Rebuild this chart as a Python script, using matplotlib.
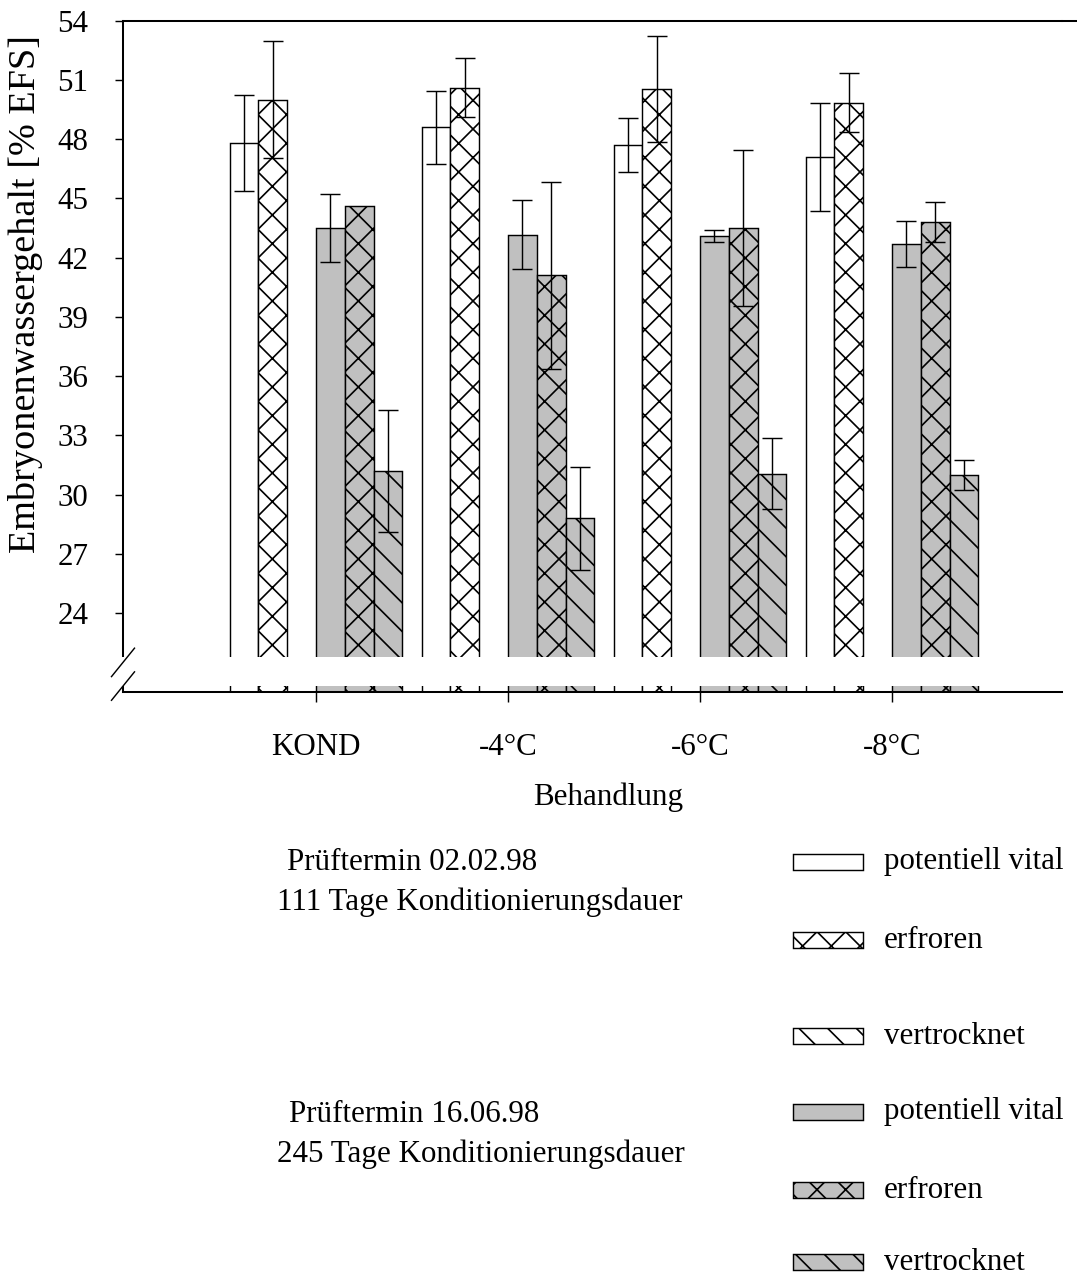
import numpy as np
import matplotlib.pyplot as plt
from matplotlib.patches import Rectangle
from matplotlib.lines import Line2D

plt.rcParams['font.family'] = ['Liberation Serif', 'DejaVu Serif']
plt.rcParams['hatch.linewidth'] = 0.7

# Embryonenwassergehalt je Behandlung, zwei Prüftermine
treatments = ['KOND', '-4°C', '-6°C', '-8°C']

# Prüftermin 02.02.98 (111 Tage)
vital_1 = [47.8, 48.6, 47.7, 47.1]
vital_1_err = [2.45, 1.85, 1.35, 2.75]
frozen_1 = [50.0, 50.6, 50.55, 49.85]
frozen_1_err = [2.95, 1.5, 2.7, 1.5]
dried_1 = [np.nan, np.nan, np.nan, np.nan]
dried_1_err = [np.nan, np.nan, np.nan, np.nan]

# Prüftermin 16.06.98 (245 Tage)
vital_2 = [43.5, 43.15, 43.1, 42.7]
vital_2_err = [1.7, 1.75, 0.3, 1.15]
frozen_2 = [44.6, 41.1, 43.5, 43.8]
frozen_2_err = [np.nan, 4.75, 3.95, 1.0]
dried_2 = [31.2, 28.8, 31.05, 31.0]
dried_2_err = [3.1, 2.6, 1.8, 0.75]

yticks = list(range(24, 55, 3))
legend_labels = ['potentiell vital', 'erfroren', 'vertrocknet']

W, H, DPI = 1077, 1276, 172
fig = plt.figure(figsize=(W / DPI, H / DPI), dpi=DPI)

def fx(px):
    return px / W

def fy(py):
    return 1 - py / H

ax_left, ax_right, ax_top, ax_bot = 123, 1062, 20.7, 692
ax = fig.add_axes([fx(ax_left), fy(ax_bot), (ax_right - ax_left) / W, (ax_bot - ax_top) / H])

GREY = '#c0c0c0'
series = [
    (vital_1, vital_1_err, 'white', ''),
    (frozen_1, frozen_1_err, 'white', 'xx'),
    (dried_1, dried_1_err, 'white', '\\\\'),
    (vital_2, vital_2_err, GREY, ''),
    (frozen_2, frozen_2_err, GREY, 'xx'),
    (dried_2, dried_2_err, GREY, '\\\\'),
]

x = np.arange(len(treatments))
w = 0.15
for i, (vals, errs, fc, hatch) in enumerate(series):
    xi = x + (i - 2.5) * w
    vals = np.array(vals, dtype=float)
    errs = np.array(errs, dtype=float)
    ok = ~np.isnan(vals)
    ax.bar(xi[ok], vals[ok], width=w, color=fc, edgecolor='black',
           linewidth=0.6, hatch=hatch, zorder=2)
    ok_e = ok & ~np.isnan(errs)
    ax.errorbar(xi[ok_e], vals[ok_e], yerr=errs[ok_e], fmt='none',
                ecolor='black', elinewidth=0.6, capsize=4.2, capthick=0.6,
                zorder=3)

ax.set_ylim(20, 54)
ax.set_xlim(-1.005, 3.885)
ax.set_yticks(yticks)
ax.set_xticks(x)
ax.set_xticklabels(treatments)
ax.tick_params(axis='y', direction='out', length=3.4, width=0.6, pad=11, labelsize=13)
ax.tick_params(axis='x', direction='out', length=4.2, width=0.6, pad=13, labelsize=13)
for side in ['top', 'left', 'bottom']:
    ax.spines[side].set_linewidth(0.85)
ax.spines['right'].set_visible(False)
# obere Rahmenlinie bis zum Bildrand
ax.add_line(Line2D([1, (W - ax_left) / (ax_right - ax_left)], [1, 1], transform=ax.transAxes,
                   color='black', linewidth=0.85, clip_on=False))

# Achsenbruch
gap_lo, gap_hi = 20.3, 21.75
ax.add_patch(Rectangle((-1.05, gap_lo), 5.0, gap_hi - gap_lo, transform=ax.transData,
                       facecolor='white', edgecolor='none', clip_on=False, zorder=6))
trans = ax.get_yaxis_transform()
dx = 11.5 / (ax_right - ax_left)
for yc in (gap_hi - 0.25, gap_lo):
    ax.add_line(Line2D([-dx, dx], [yc - 0.72, yc + 0.72], transform=trans,
                       color='black', linewidth=0.6, clip_on=False, zorder=7))

fig.text(fx(26), fy(294), 'Embryonenwassergehalt [% EFS]', rotation=90,
         ha='center', va='center', fontsize=16)
fig.text(fx(608), fy(797), 'Behandlung', ha='center', va='center', fontsize=13)

# Legende
fig.text(fx(287), fy(862), 'Prüftermin 02.02.98', ha='left', va='center', fontsize=13)
fig.text(fx(277), fy(902), '111 Tage Konditionierungsdauer', ha='left', va='center', fontsize=13)
fig.text(fx(289), fy(1114), 'Prüftermin 16.06.98', ha='left', va='center', fontsize=13)
fig.text(fx(277), fy(1154), '245 Tage Konditionierungsdauer', ha='left', va='center', fontsize=13)

legend_y = [862, 940, 1036, 1112, 1190, 1262]
for k, (_, _, fc, hatch) in enumerate(series):
    yc = legend_y[k]
    fig.add_artist(Rectangle((fx(793), fy(yc + 8)), 70 / W, 16 / H,
                             transform=fig.transFigure, facecolor=fc,
                             edgecolor='black', linewidth=0.6, hatch=hatch))
    fig.text(fx(884), fy(yc), legend_labels[k % 3], ha='left', va='center', fontsize=13)

fig.savefig('out.png', dpi=DPI)
